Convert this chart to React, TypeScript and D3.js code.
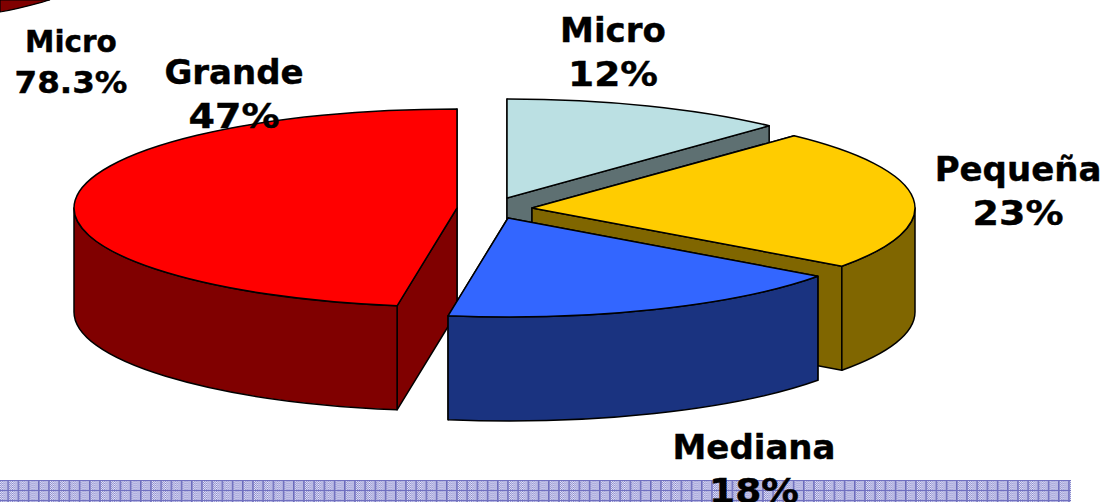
import React from "react";
import * as d3 from "d3";

const categories = ["Micro", "Pequeña", "Mediana", "Grande"];
const shares = [12, 23, 17.5, 47.5];
const shareLabels = ["12%", "23%", "18%", "47%"];
const topColors = ["#bbe0e3", "#ffcc00", "#3366ff", "#ff0000"];
const sideColors = ["#5e7072", "#806600", "#1a3380", "#800000"];
const explodeX = [507, 532, 508, 457];
const explodeY = [198, 208, 218, 208];
const labelX = [613, 1018, 754, 234];
const labelY = [42, 181, 459, 84];
const labelWidths = [90, 91, 90, 91];
const drawOrder = [0, 1, 3, 2];
const sideCategory = "Micro";
const sideValue = "78.3%";
const sideValueWidth = 113;

const RX = 383;
const RY = 99;
const DEPTH = 104;
const STROKE = "#000";

const pie = d3.pie<number>().sort(null).startAngle(0).endAngle(2 * Math.PI);
const arcs = pie(shares);

const pt = (cx: number, cy: number, a: number): [number, number] => [
  cx + RX * Math.sin(a),
  cy - RY * Math.cos(a),
];

function topPath(i: number) {
  const { startAngle: s, endAngle: e } = arcs[i];
  const cx = explodeX[i], cy = explodeY[i];
  const [x0, y0] = pt(cx, cy, s);
  const [x1, y1] = pt(cx, cy, e);
  const large = e - s > Math.PI ? 1 : 0;
  return `M${cx},${cy}L${x0},${y0}A${RX},${RY} 0 ${large} 1 ${x1},${y1}Z`;
}

function wallPath(cx: number, cy: number, a: number) {
  const [x, y] = pt(cx, cy, a);
  return `M${cx},${cy}L${x},${y}L${x},${y + DEPTH}L${cx},${cy + DEPTH}Z`;
}

function outerPath(i: number, lo: number, hi: number) {
  const cx = explodeX[i], cy = explodeY[i];
  const s = Math.max(arcs[i].startAngle, lo);
  const e = Math.min(arcs[i].endAngle, hi);
  if (e <= s) return null;
  const [x0, y0] = pt(cx, cy, s);
  const [x1, y1] = pt(cx, cy, e);
  return `M${x0},${y0}A${RX},${RY} 0 0 1 ${x1},${y1}L${x1},${y1 + DEPTH}A${RX},${RY} 0 0 0 ${x0},${y0 + DEPTH}Z`;
}

const fontFamily = "'DejaVu Sans', Verdana, sans-serif";

export default function App() {
  const slice = (i: number) => {
    const a = arcs[i];
    const cx = explodeX[i], cy = explodeY[i];
    const walls = [a.startAngle, a.endAngle].sort((p, q) => Math.cos(q) - Math.cos(p));
    const outer = outerPath(i, Math.PI / 2, (3 * Math.PI) / 2);
    return (
      <g key={categories[i]} stroke={STROKE} strokeWidth={1.5} strokeLinejoin="round">
        {walls.map((w) => (
          <path key={w} d={wallPath(cx, cy, w)} fill={sideColors[i]} />
        ))}
        {outer && <path d={outer} fill={sideColors[i]} />}
        <path d={topPath(i)} fill={topColors[i]} />
      </g>
    );
  };

  return (
    <svg
      width={1107}
      height={502}
      viewBox="0 0 1107 502"
      style={{ position: "absolute", left: 0, top: 0, background: "#fff" }}
    >
      <defs>
        <pattern id="check" width={2} height={2} patternUnits="userSpaceOnUse">
          <rect width={2} height={2} fill="#eeeefa" />
          <rect width={1} height={1} fill="#8484cc" />
          <rect x={1} y={1} width={1} height={1} fill="#8484cc" />
        </pattern>
        <pattern id="band" x={0} y={481} width={10.2} height={10} patternUnits="userSpaceOnUse">
          <rect width={10.2} height={10} fill="url(#check)" />
          <rect x={7.6} width={1.2} height={10} fill="#5a5ab4" />
          <rect y={9} width={10.2} height={1} fill="#7070c0" />
        </pattern>
      </defs>

      <rect x={0} y={480} width={1071} height={22} fill="url(#band)" />

      <path d="M0,12 C18,9 35,4 50,0 L0,0 Z" fill="#800000" stroke="#000" strokeWidth={1.2} />

      {drawOrder.map(slice)}

      <g fontFamily={fontFamily} fontWeight={700} fontSize={34} textAnchor="middle" fill="#000" stroke="#000" strokeWidth={0.4}>
        {categories.map((c, i) => (
          <g key={c}>
            <text x={labelX[i]} y={labelY[i]}>{c}</text>
            <text
              x={labelX[i]}
              y={labelY[i] + 44}
              textLength={labelWidths[i]}
              lengthAdjust="spacingAndGlyphs"
            >
              {shareLabels[i]}
            </text>
          </g>
        ))}
      </g>
      <g fontFamily={fontFamily} fontWeight={700} fontSize={29.5} textAnchor="middle" fill="#000" stroke="#000" strokeWidth={0.4}>
        <text x={71} y={52}>{sideCategory}</text>
        <text x={71} y={93} textLength={sideValueWidth} lengthAdjust="spacingAndGlyphs">
          {sideValue}
        </text>
      </g>
    </svg>
  );
}
